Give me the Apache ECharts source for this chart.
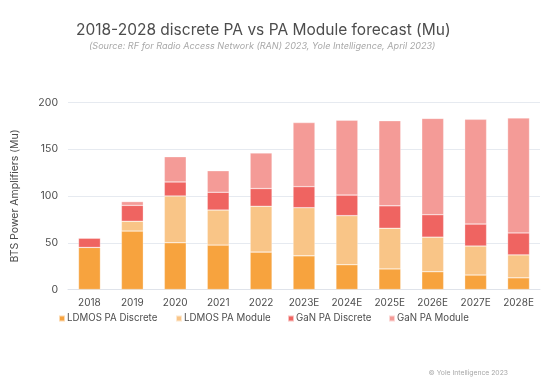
<!DOCTYPE html>
<html><head><meta charset="utf-8">
<script src="https://cdn.jsdelivr.net/npm/echarts@6/dist/echarts.min.js"></script>
<style>html,body{margin:0;padding:0;background:#fff}#c{width:550px;height:385px}</style>
</head><body><div id="c"></div>
<script>
const categories = ['2018','2019','2020','2021','2022','2023E','2024E','2025E','2026E','2027E','2028E'];
const ldmosDiscrete = [45, 62.5, 50, 47.5, 40, 36, 26.5, 22, 19, 15.5, 12.5];
const ldmosModule   = [0, 10.5, 50, 37.5, 49, 51.5, 52.5, 43.5, 37, 31, 24.5];
const ganDiscrete   = [10, 17, 15, 19, 19, 22.5, 22, 24, 24, 23.5, 23.5];
const ganModule     = [0, 4, 27, 23, 38, 68.5, 80, 91, 103, 112, 123];
const yTicks = [0, 50, 100, 150, 200];

const font = 'Inter, "Open Sans", sans-serif';
const colors = ['#F7A33E', '#F9C587', '#EF6461', '#F49B97'];
const names = ['LDMOS PA Discrete','LDMOS PA Module','GaN PA Discrete','GaN PA Module'];
const data = [ldmosDiscrete, ldmosModule, ganDiscrete, ganModule];
const legendLefts = [58, 175, 287, 388];

const chart = echarts.init(document.getElementById('c'), null, {renderer: 'canvas'});
chart.setOption({
  animation: false,
  color: colors,
  title: [{
    text: '2018-2028 discrete PA vs PA Module forecast (Mu)',
    left: 71, top: 17,
    textStyle: {fontFamily: font, fontSize: 15.5, fontWeight: 'normal', color: '#4d4d4d'}
  }, {
    text: '(Source: RF for Radio Access Network (RAN) 2023, Yole Intelligence, April 2023)',
    left: 84, top: 37,
    textStyle: {fontFamily: font, fontSize: 9.1, fontStyle: 'italic', fontWeight: 'normal', color: '#a8a8a8'}
  }, {
    text: '© Yole Intelligence 2023',
    right: 37, top: 364,
    textStyle: {fontFamily: font, fontSize: 6.8, fontWeight: 'normal', color: '#a8a8a8'}
  }],
  grid: {left: 68, right: 10, top: 102.5, bottom: 95.5, containLabel: false},
  legend: names.map((n, i) => ({
    top: 313.5, left: legendLefts[i], padding: 0,
    itemWidth: 6, itemHeight: 6,
    icon: 'rect',
    textStyle: {fontFamily: font, fontSize: 9.7, color: '#4d4d4d', padding: [0, 0, 0, -3]},
    data: [n]
  })),
  xAxis: {
    type: 'category', data: categories,
    axisLine: {lineStyle: {color: '#dfe3ea'}},
    axisTick: {show: false},
    axisLabel: {fontFamily: font, fontSize: 10, color: '#4d4d4d', margin: 8}
  },
  yAxis: {
    type: 'value', min: 0, max: 200, interval: 50,
    name: 'BTS Power Amplifiers (Mu)', nameLocation: 'middle', nameGap: 48,
    nameTextStyle: {fontFamily: font, fontSize: 10.5, color: '#4d4d4d'},
    axisLine: {show: false}, axisTick: {show: false},
    axisLabel: {fontFamily: font, fontSize: 10.5, color: '#4d4d4d', margin: 10,
      formatter: v => yTicks.includes(v) ? String(v) : ''},
    splitLine: {lineStyle: {color: '#e6eaf0'}}
  },
  series: names.map((n, i) => ({
    name: n, type: 'bar', stack: 'total', data: data[i], barWidth: '51%',
    itemStyle: {color: colors[i], borderColor: 'rgba(255,255,255,0.6)', borderWidth: 0.5}
  }))
});
</script></body></html>
